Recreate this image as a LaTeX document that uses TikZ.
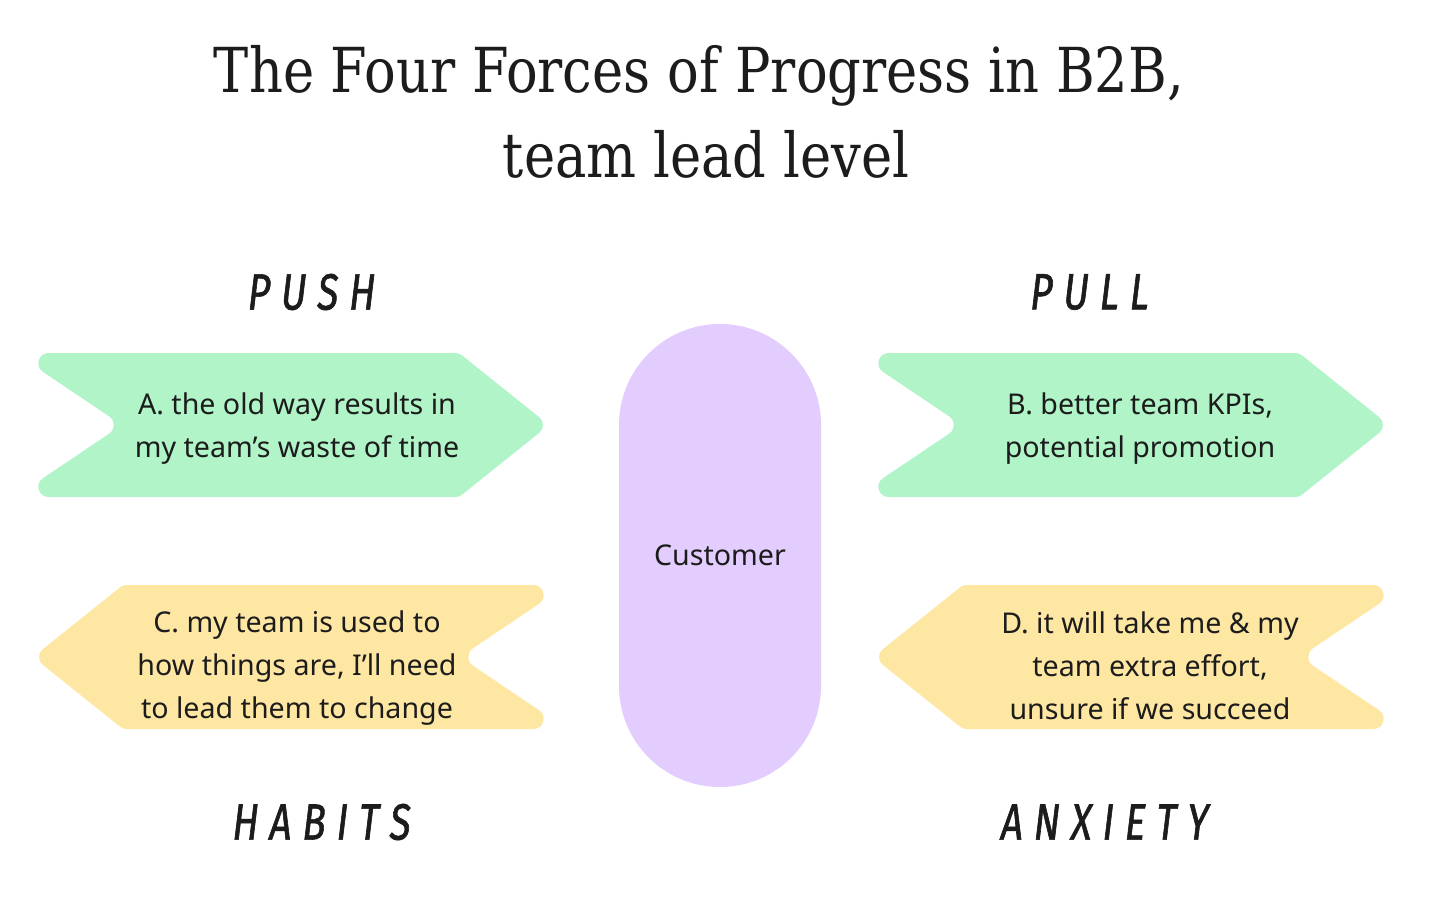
\documentclass[tikz,border=0pt]{standalone}
\usepackage{fontspec}
\setmainfont{Noto Sans}
\newfontfamily\titlefont[FakeStretch=0.85]{DejaVu Serif}
\newfontfamily\handfont[FakeStretch=0.75,FakeSlant=0.12,FakeBold=1.2]{Fira Sans}
\usetikzlibrary{calc}
\definecolor{mint}{HTML}{B0F4C8}
\definecolor{butter}{HTML}{FEE7A3}
\definecolor{lilac}{HTML}{E3CCFE}
\definecolor{ink}{HTML}{1C1C1C}
\newcommand\lsp{\kern 5.5pt}
\tikzset{
  corner/.style n args={5}{insert path={-- ($(#2)!#4!(#1)$) .. controls ($(#2)!#5!(#1)$) and ($(#2)!#5!(#3)$) .. ($(#2)!#4!(#3)$)}},
  chevron/.style={insert path={
    ($(V1)!16.75pt!(V2)$)
    [corner={V1}{V2}{V3}{1.75pt}{0.6pt}]
    [corner={V2}{V3}{V4}{6.25pt}{3.05pt}]
    [corner={V3}{V4}{V5}{1.75pt}{0.6pt}]
    [corner={V4}{V5}{V6}{16.75pt}{11.8pt}]
    [corner={V5}{V6}{V1}{7.65pt}{4.05pt}]
    [corner={V6}{V1}{V2}{16.75pt}{11.8pt}]
    -- cycle}},
  bodytext/.style={text=ink, align=center, inner sep=0pt, font=\fontsize{14.3pt}{21.5pt}\selectfont},
  handtext/.style={text=ink, inner sep=0pt, font=\handfont\fontsize{25.5pt}{30pt}\selectfont},
  titletext/.style={text=ink, inner sep=0pt, anchor=base, font=\titlefont\fontsize{31pt}{40pt}\selectfont},
}
\newcommand\chevshape[1]{%
  \coordinate (V1) at (15,0);
  \coordinate (V2) at (459,0);
  \coordinate (V3) at (549,72);
  \coordinate (V4) at (459,144);
  \coordinate (V5) at (15,144);
  \coordinate (V6) at (122,72);
  \fill[#1] [chevron];
}
\begin{document}
\begin{tikzpicture}[x=0.5pt,y=-0.5pt]
\useasboundingbox (0,0) rectangle (1456,912);
\fill[white] (0,0) rectangle (1456,912);
% title
\node[titletext] (title1) at (699,92) {The Four Forces of Progress in B2B,};
\node[titletext] (title2) at (706,177) {team lead level};
% shapes
\begin{scope}[shift={(0,353)}]\chevshape{mint}\end{scope}
\begin{scope}[shift={(840,353)}]\chevshape{mint}\end{scope}
\begin{scope}[shift={(582,585)},xscale=-1]\chevshape{butter}\end{scope}
\begin{scope}[shift={(1422,585)},xscale=-1]\chevshape{butter}\end{scope}
% customer
\node[fill=lilac, rounded corners=50.5pt, minimum width=101pt, minimum height=231.5pt, inner sep=0pt] (cust) at (720,555.5) {};
\node[bodytext] (custtext) at (cust.center) {Customer};
% texts
\node[bodytext] (ta) at (297,428.5) {A. the old way results in\\my team’s waste of time};
\node[bodytext] (tb) at (1140,428.5) {B. better team KPIs,\\potential promotion};
\node[bodytext] (tc) at (297,668) {C. my team is used to\\how things are, I’ll need\\to lead them to change};
\node[bodytext] (td) at (1150,666) {D. it will take me \& my\\team extra effort,\\unsure if we succeed};
% hand labels
\node[handtext] (push) at (310,292) {P\lsp U\lsp S\lsp H};
\node[handtext] (pull) at (1088,292) {P\lsp U\lsp L\lsp L};
\node[handtext] (habits) at (320,822) {H\lsp A\lsp B\lsp I\lsp T\lsp S};
\node[handtext] (anxiety) at (1103,822) {A\lsp N\lsp X\lsp I\lsp E\lsp T\lsp Y};
\end{tikzpicture}
\end{document}
